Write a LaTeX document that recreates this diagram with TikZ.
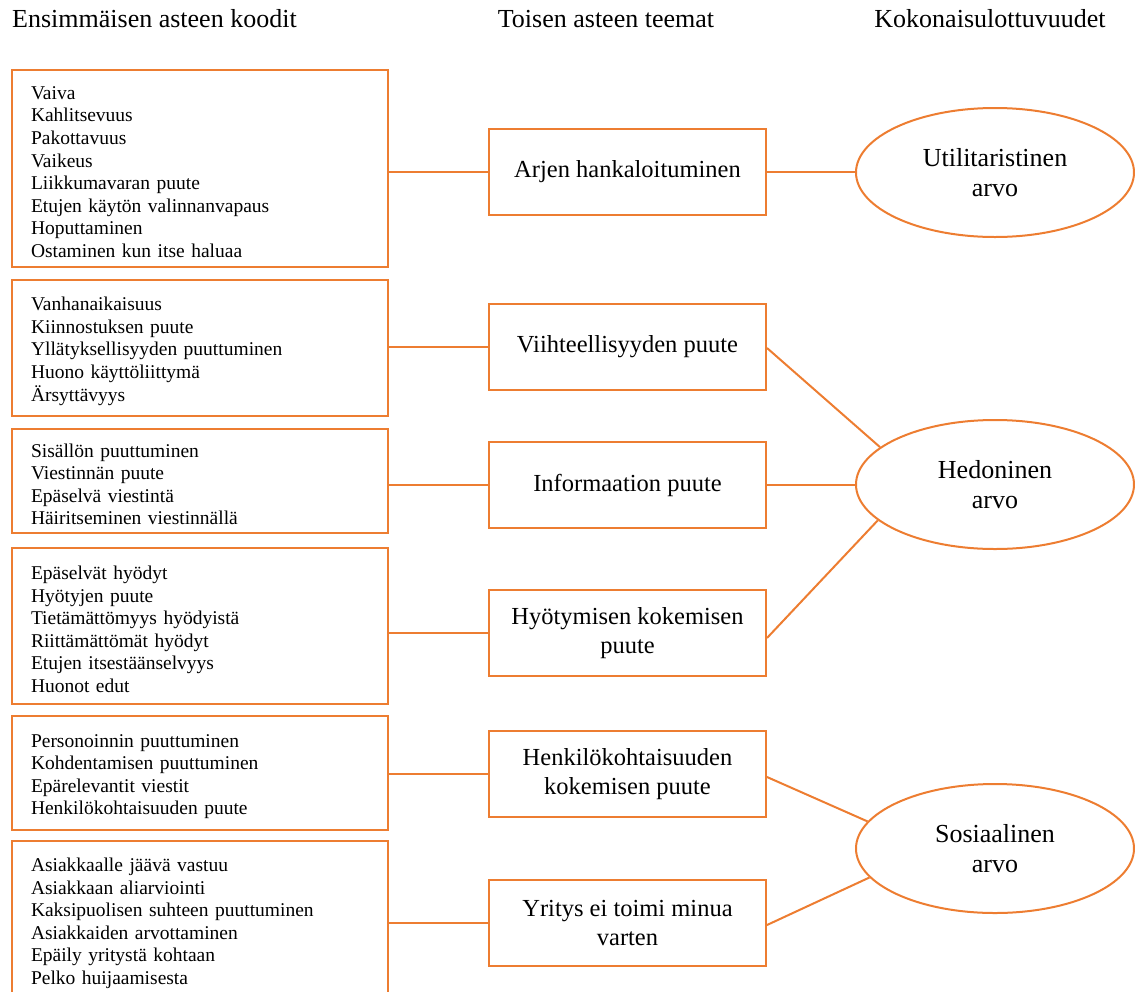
\documentclass[tikz,border=0pt]{standalone}
\usepackage{fontspec}
\setmainfont{Liberation Serif}
\usetikzlibrary{shapes.geometric}
\definecolor{lineor}{RGB}{237,125,49}
\newcommand{\firstln}{\rule{0pt}{20pt}}
\tikzset{
  title/.style={font=\fontsize{26}{30}\selectfont, inner sep=0pt},
  codebox/.style={draw=lineor, line width=2pt, anchor=north west, align=left,
    text width=338pt, inner xsep=19pt, inner ysep=0pt, minimum width=376pt,
    font=\fontsize{19.5}{22.6}\selectfont},
  themebox/.style={draw=lineor, line width=2pt, align=center,
    minimum width=277pt, minimum height=86pt, inner sep=0pt,
    font=\fontsize{24.5}{29}\selectfont},
  dimell/.style={draw=lineor, line width=2pt, ellipse, align=center,
    minimum width=278pt, minimum height=129pt, inner sep=0pt,
    font=\fontsize{26}{30}\selectfont},
  link/.style={draw=lineor, line width=2pt}
}
\begin{document}
\begin{tikzpicture}[x=1pt,y=-1pt]
\useasboundingbox (0,0) rectangle (1135,991);
\clip (0,0) rectangle (1135,991);
% titles
\node[title, anchor=base west] (h1) at (12,27) {Ensimmäisen asteen koodit};
\node[title, anchor=base] (h2) at (606,27) {Toisen asteen teemat};
\node[title, anchor=base] (h3) at (990,27) {Kokonaisulottuvuudet};
% first-order codes
\node[codebox, minimum height=197pt] (c1) at (11,69) {\firstln Vaiva\\Kahlitsevuus\\Pakottavuus\\Vaikeus\\Liikkumavaran puute\\Etujen käytön valinnanvapaus\\Hoputtaminen\\Ostaminen kun itse haluaa};
\node[codebox, minimum height=136pt] (c2) at (11,279) {\firstln Vanhanaikaisuus\\Kiinnostuksen puute\\Yllätyksellisyyden puuttuminen\\Huono käyttöliittymä\\Ärsyttävyys};
\node[codebox, minimum height=104pt] (c3) at (11,428) {\firstln Sisällön puuttuminen\\Viestinnän puute\\Epäselvä viestintä\\Häiritseminen viestinnällä};
\node[codebox, minimum height=156pt] (c4) at (11,547) {\firstln Epäselvät hyödyt\\Hyötyjen puute\\Tietämättömyys hyödyistä\\Riittämättömät hyödyt\\Etujen itsestäänselvyys\\Huonot edut};
\node[codebox, minimum height=114pt] (c5) at (11,715) {\firstln Personoinnin puuttuminen\\Kohdentamisen puuttuminen\\Epärelevantit viestit\\Henkilökohtaisuuden puute};
\node[codebox, minimum height=158pt] (c6) at (11,840) {\firstln Asiakkaalle jäävä vastuu\\Asiakkaan aliarviointi\\Kaksipuolisen suhteen puuttuminen\\Asiakkaiden arvottaminen\\Epäily yritystä kohtaan\\Pelko huijaamisesta};
% second-order themes
\node[themebox] (t1) at (627.5,172) {Arjen hankaloituminen};
\node[themebox] (t2) at (627.5,347) {Viihteellisyyden puute};
\node[themebox] (t3) at (627.5,485) {Informaation puute};
\node[themebox] (t4) at (627.5,633) {Hyötymisen kokemisen\\puute};
\node[themebox] (t5) at (627.5,774) {Henkilökohtaisuuden\\kokemisen puute};
\node[themebox] (t6) at (627.5,923) {Yritys ei toimi minua\\varten};
% aggregate dimensions
\node[dimell] (v1) at (995,172.5) {Utilitaristinen\\arvo};
\node[dimell] (v2) at (995,484.5) {Hedoninen\\arvo};
\node[dimell] (v3) at (995,848.5) {Sosiaalinen\\arvo};
% links codes -> themes
\draw[link] (c1.east |- t1.west) -- (t1.west);
\draw[link] (c2.east |- t2.west) -- (t2.west);
\draw[link] (c3.east |- t3.west) -- (t3.west);
\draw[link] (c4.east |- t4.west) -- (t4.west);
\draw[link] (c5.east |- t5.west) -- (t5.west);
\draw[link] (c6.east |- t6.west) -- (t6.west);
% links themes -> dimensions
\draw[link] (t1.east) -- (t1.east -| v1.west);
\draw[link] ([yshift=-1pt]t2.east) -- (v2.162);
\draw[link] (t3.east) -- (t3.east -| v2.west);
\draw[link] ([yshift=-5pt]t4.east) -- (v2.197);
\draw[link] ([yshift=-3pt]t5.east) -- (v3.168);
\draw[link] ([yshift=-2pt]t6.east) -- (v3.193);
\end{tikzpicture}
\end{document}
